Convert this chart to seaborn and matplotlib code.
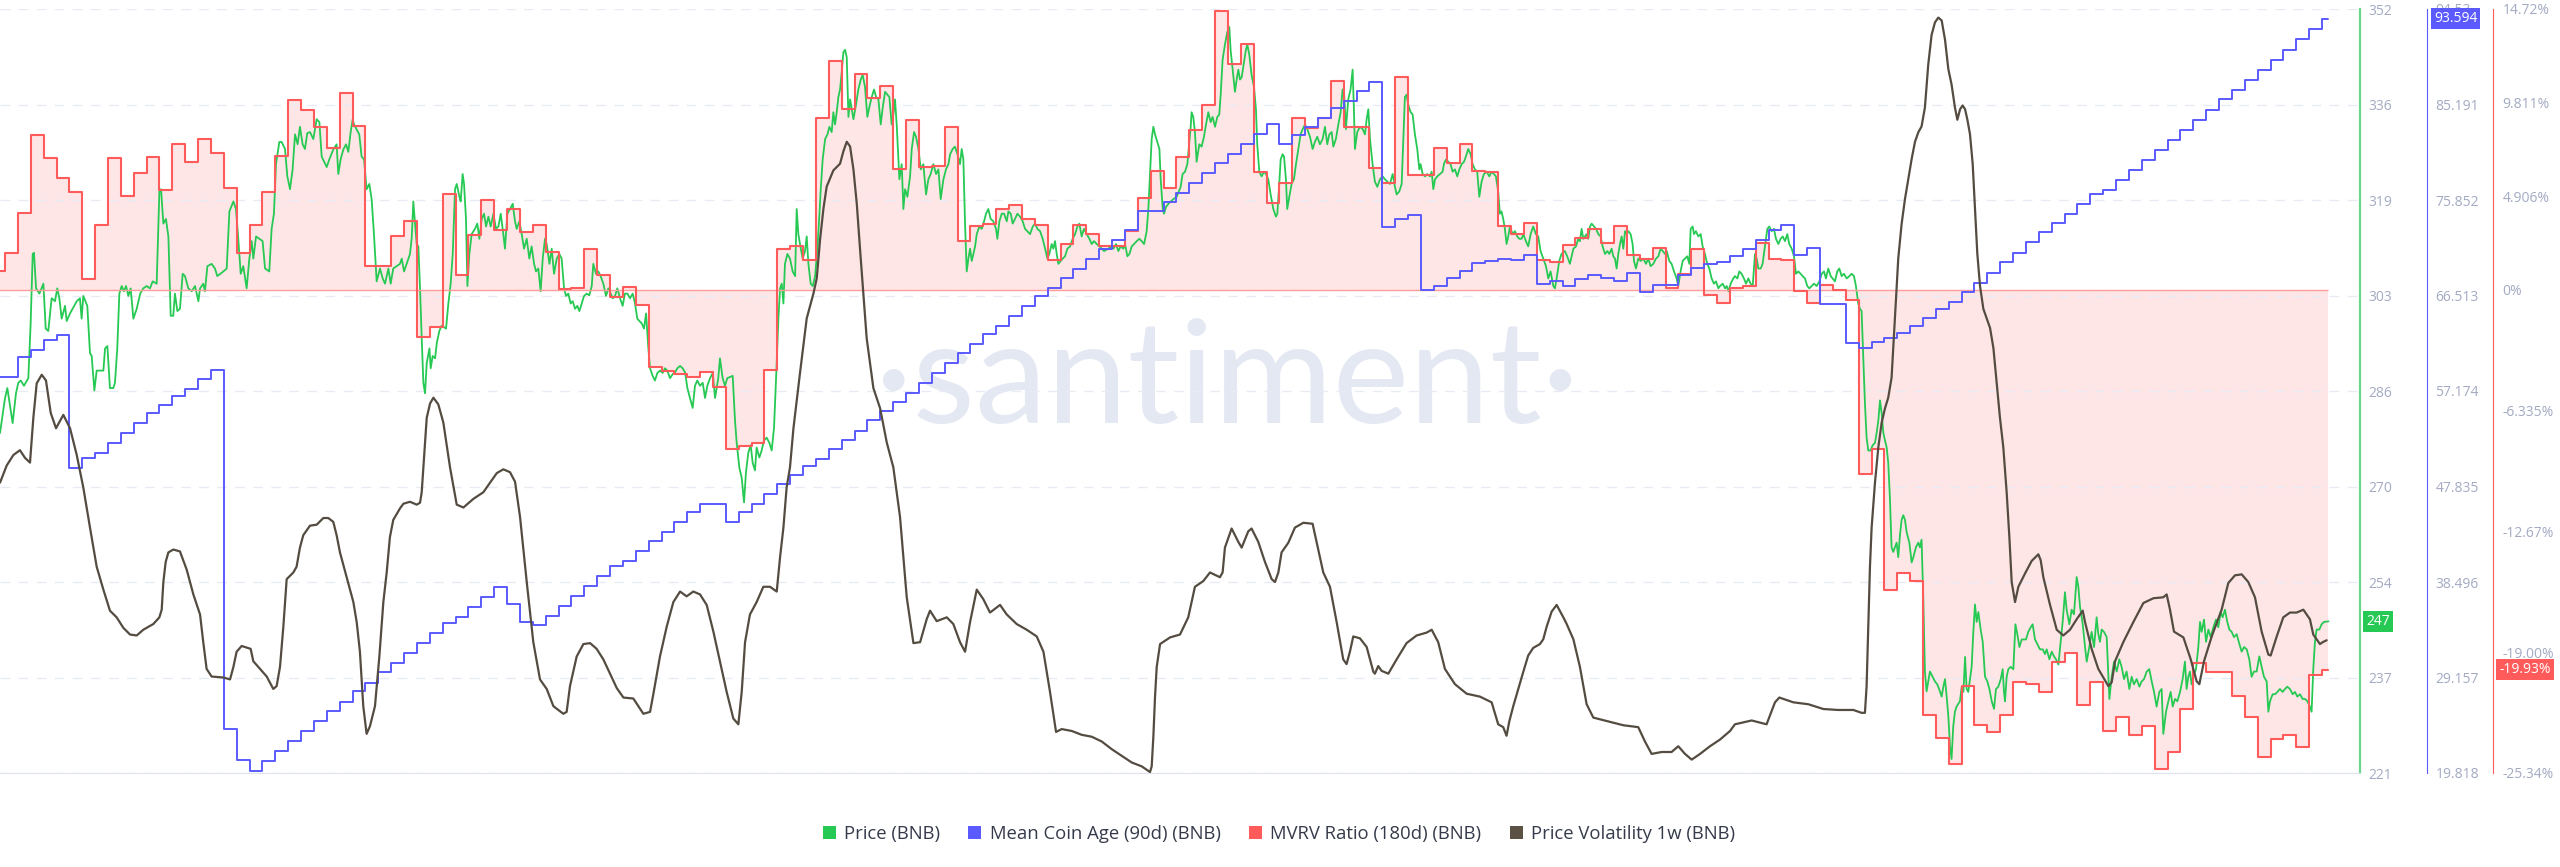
import numpy as np
import pandas as pd
import matplotlib
matplotlib.use("Agg")
import matplotlib.pyplot as plt
import matplotlib.transforms as mtransforms
from matplotlib.patches import Patch
import seaborn as sns

# ---- data -------------------------------------------------------------
start = pd.Timestamp("2023-01-11")

# daily MVRV ratio (180d), %  -- 11 Jan .. 11 Jul
mvrv = [0.98, 1.93, 4.02, 8.11, 6.91, 5.86, 5.15, 0.58, 3.39, 6.91,
        4.89, 6.14, 6.96, 5.23, 7.64, 6.71, 7.90, 7.17, 5.33, 1.93,
        3.39, 5.10, 7.03, 9.97, 9.45, 8.53, 7.43, 10.29, 8.59, 1.24,
        1.24, 2.82, 3.60, -2.48, -1.95, 5.02, 0.77, 2.87, 4.68, 3.13,
        4.23, 3.03, 3.39, 1.98, 0.05, 0.08, 2.14, 0.77, -0.38, 0.12,
        -0.80, -4.05, -4.26, -4.42, -4.58, -4.32, -5.10, -8.35, -8.20, -8.05,
        -4.21, 2.14, 2.29, 1.56, 9.00, 12.01, 9.50, 11.33, 10.03, 10.70,
        6.33, 8.90, 6.45, 6.49, 8.53, 2.55, 3.34, 3.45, 4.23, 4.42,
        3.71, 3.39, 1.56, 2.40, 3.39, 2.92, 2.29, 2.29, 3.08, 4.81,
        6.25, 5.33, 6.96, 8.38, 9.71, 14.62, 11.85, 12.90, 6.19, 4.57,
        5.60, 8.98, 8.50, 8.98, 10.94, 8.53, 8.53, 6.38, 5.62, 11.15,
        6.02, 6.02, 7.43, 6.66, 7.64, 6.25, 6.17, 3.34, 2.92, 3.50,
        1.56, 1.45, 2.35, 2.71, 3.18, 2.45, 3.34, 1.82, 1.61, 2.19,
        0.11, 0.85, 2.14, -0.28, -0.67, 0.11, 0.22, 2.45, 1.61, 1.56,
        -0.05, -0.67, 0.25, 0.01, -0.54, -9.66, -8.35, -15.72, -14.85, -15.27,
        -22.30, -23.51, -24.87, -20.76, -22.82, -23.19, -22.30, -20.55, -20.67, -21.07,
        -19.50, -19.03, -21.78, -20.55, -23.14, -22.40, -23.35, -22.87, -25.12, -24.24,
        -22.00, -19.57, -20.02, -20.02, -21.28, -22.40, -24.50, -23.55, -23.35, -23.98,
        -20.20, -19.93]

# daily mean coin age (90d), days
coin_age = [58.58, 58.58, 60.50, 61.18, 62.16, 62.65, 49.67, 50.65, 51.14, 52.11,
            53.09, 54.04, 55.02, 55.76, 56.64, 57.41, 58.35, 59.26, 24.08, 21.12,
            20.01, 20.99, 21.97, 22.95, 23.93, 24.91, 25.88, 26.81, 27.79, 28.66,
            29.73, 30.55, 31.58, 32.55, 33.53, 34.49, 35.08, 36.05, 37.03, 38.01,
            36.39, 34.58, 34.29, 35.17, 36.15, 37.13, 38.11, 39.09, 40.06, 40.58,
            41.53, 42.51, 43.39, 44.36, 45.34, 46.17, 46.17, 44.36, 45.34, 46.17,
            47.15, 48.12, 48.96, 49.84, 50.55, 51.50, 52.38, 53.26, 54.34, 55.22,
            56.10, 56.98, 57.96, 58.94, 59.91, 60.89, 61.77, 62.75, 63.53, 64.51,
            65.49, 66.42, 67.29, 68.26, 69.13, 70.11, 71.08, 71.96, 72.92, 74.74,
            74.74, 75.61, 76.54, 77.51, 78.49, 79.47, 80.35, 81.33, 82.31, 83.25,
            81.33, 82.21, 82.99, 83.83, 84.80, 85.53, 86.51, 87.39, 73.17, 73.99,
            74.38, 67.09, 67.44, 68.26, 68.91, 69.72, 69.89, 70.11, 70.03, 70.47,
            67.68, 67.93, 67.44, 68.17, 68.52, 68.26, 67.93, 68.75, 66.81, 67.58,
            67.58, 68.52, 69.23, 69.62, 69.79, 70.38, 71.08, 71.96, 72.92, 73.42,
            70.50, 71.18, 65.73, 65.73, 61.84, 61.35, 61.94, 62.33, 62.82, 63.54,
            64.27, 65.15, 65.85, 66.81, 67.77, 68.75, 69.79, 70.70, 71.72, 72.74,
            73.61, 74.48, 75.46, 76.44, 76.87, 77.85, 78.79, 79.74, 80.72, 81.69,
            82.67, 83.68, 84.70, 85.68, 86.65, 87.63, 88.59, 89.57, 90.54, 91.62,
            92.58, 93.594]

# intraday BNB price: (days since 11 Jan, USD)
price_pts = [
    (0.11, 279.3), (0.50, 285.3), (0.68, 287.0), (1.09, 281.0), (1.35, 286.1), (1.53, 287.9), (1.72, 288.3),
    (1.97, 287.4), (2.31, 288.7), (2.49, 298.1), (2.65, 310.0), (2.75, 310.2), (2.91, 304.1), (3.17, 303.2),
    (3.48, 304.9), (3.66, 297.2), (3.86, 296.8), (4.12, 302.4), (4.38, 301.9), (4.56, 304.1), (4.72, 302.4),
    (4.90, 298.9), (5.16, 301.1), (5.29, 298.5), (5.55, 299.8), (6.07, 301.9), (6.32, 302.4), (6.45, 298.9),
    (6.58, 302.8), (6.89, 301.1), (7.10, 293.0), (7.23, 292.5), (7.44, 286.6), (7.62, 290.0), (8.14, 290.0),
    (8.27, 293.8), (8.45, 294.2), (8.65, 287.0), (8.91, 287.0), (9.04, 287.9), (9.22, 293.8), (9.38, 303.2),
    (9.56, 304.5), (9.74, 303.6), (9.90, 304.5), (10.08, 302.8), (10.26, 304.1), (10.47, 298.9), (10.73, 300.6),
    (11.00, 303.2), (11.24, 304.1), (11.50, 304.5), (11.76, 304.1), (11.97, 305.3), (12.28, 304.9), (12.49, 320.7),
    (12.62, 321.1), (12.80, 315.2), (13.00, 316.0), (13.19, 313.0), (13.37, 299.4), (13.57, 299.4), (13.70, 303.2),
    (13.89, 300.2), (14.09, 300.6), (14.30, 306.6), (14.48, 306.2), (14.74, 304.1), (15.00, 303.6), (15.26, 304.5),
    (15.52, 301.9), (15.65, 304.1), (15.90, 304.9), (16.03, 303.6), (16.22, 307.9), (16.55, 308.3), (16.81, 307.5),
    (16.99, 306.2), (17.46, 307.0), (17.72, 307.5), (17.93, 317.3), (18.24, 319.0), (18.44, 317.7), (18.62, 312.6),
    (18.81, 306.6), (19.01, 307.9), (19.27, 304.1), (19.48, 309.2), (19.66, 312.2), (19.79, 309.2), (20.00, 313.0),
    (20.51, 312.2), (20.70, 307.5), (21.03, 307.0), (21.21, 314.3), (21.39, 316.9), (21.55, 325.4), (21.81, 329.2),
    (21.99, 329.2), (22.25, 328.0), (22.43, 323.3), (22.64, 321.1), (22.84, 324.5), (23.03, 330.5), (23.23, 328.8),
    (23.41, 331.8), (23.62, 328.8), (23.80, 328.0), (23.98, 330.7), (24.19, 330.9), (24.45, 329.7), (24.71, 333.1),
    (24.92, 332.6), (25.10, 326.7), (25.49, 324.9), (25.69, 326.2), (26.00, 327.9), (26.26, 328.8), (26.39, 323.7),
    (26.57, 326.2), (26.78, 327.9), (26.99, 328.8), (27.17, 327.5), (27.35, 330.9), (27.51, 333.1), (27.61, 332.2),
    (28.02, 330.5), (28.20, 326.7), (28.39, 326.2), (28.59, 321.1), (28.80, 322.0), (28.98, 319.4), (29.16, 313.4),
    (29.37, 305.3), (29.63, 307.5), (29.84, 305.8), (30.02, 304.9), (30.28, 307.5), (30.46, 304.9), (30.66, 307.5),
    (31.18, 308.3), (31.32, 309.2), (31.50, 307.0), (31.70, 308.3), (31.96, 310.0), (32.09, 312.6), (32.22, 319.0),
    (32.35, 315.2), (32.48, 311.7), (32.61, 311.3), (32.74, 304.1), (32.87, 295.5), (33.00, 287.9), (33.13, 286.1),
    (33.26, 291.3), (33.47, 293.8), (33.57, 290.4), (33.72, 292.5), (33.91, 292.1), (34.04, 294.7), (34.24, 296.8),
    (34.42, 297.7), (34.76, 297.2), (34.94, 301.5), (35.12, 304.9), (35.28, 310.0), (35.46, 321.1), (35.59, 322.0),
    (35.80, 319.8), (35.90, 319.0), (36.05, 323.7), (36.16, 322.0), (36.31, 316.0), (36.42, 304.5), (36.57, 310.0),
    (36.75, 313.4), (37.01, 314.3), (37.19, 315.2), (37.35, 312.6), (37.53, 316.0), (37.71, 316.9), (37.87, 314.7),
    (38.05, 316.4), (38.23, 314.7), (38.44, 316.9), (38.64, 314.3), (38.83, 314.7), (39.01, 316.9), (39.21, 313.4),
    (39.34, 310.9), (39.52, 316.9), (39.73, 317.7), (39.94, 318.6), (40.12, 315.6), (40.25, 314.3), (40.46, 315.6),
    (40.64, 313.4), (40.82, 310.9), (41.03, 312.6), (41.23, 309.2), (41.41, 311.3), (41.60, 308.3), (41.75, 307.0),
    (41.93, 307.5), (42.11, 303.6), (42.27, 309.2), (42.45, 312.6), (42.58, 311.7), (42.79, 308.3), (42.97, 310.9),
    (43.15, 306.6), (43.36, 309.2), (43.56, 310.0), (43.74, 309.2), (43.93, 304.1), (44.08, 302.8), (44.26, 303.2),
    (44.44, 301.5), (44.60, 301.9), (44.78, 300.6), (44.96, 301.1), (45.12, 300.2), (45.30, 301.5), (45.48, 302.8),
    (45.69, 303.2), (45.89, 302.9), (46.08, 304.5), (46.20, 308.3), (46.41, 306.6), (46.59, 307.0), (46.77, 306.2),
    (46.98, 304.9), (47.19, 302.8), (47.37, 304.1), (47.55, 303.2), (47.71, 302.4), (47.89, 302.8), (48.07, 304.1),
    (48.28, 302.4), (48.48, 301.1), (48.66, 303.2), (48.85, 303.2), (49.05, 302.4), (49.26, 303.2), (49.44, 301.5),
    (49.62, 298.9), (49.78, 298.5), (49.96, 298.1), (50.14, 297.2), (50.30, 299.8), (50.48, 293.8), (50.61, 290.4),
    (50.81, 289.1), (50.99, 288.3), (51.18, 289.6), (51.38, 290.0), (51.59, 289.6), (51.77, 290.4), (51.95, 290.0),
    (52.16, 288.7), (52.37, 289.4), (52.55, 289.7), (52.73, 290.4), (52.94, 290.8), (53.14, 290.4), (53.33, 289.7),
    (53.51, 287.0), (53.71, 285.3), (53.92, 283.6), (54.10, 287.4), (54.28, 288.3), (54.49, 287.4), (54.70, 287.9),
    (54.88, 285.3), (55.06, 287.4), (55.27, 288.7), (55.48, 289.6), (55.66, 285.3), (55.91, 288.7), (56.04, 292.1),
    (56.25, 288.7), (56.43, 287.4), (56.61, 288.7), (56.82, 288.9), (57.03, 289.1), (57.21, 281.4), (57.34, 277.6),
    (57.55, 273.3), (57.73, 271.6), (57.91, 267.4), (58.06, 272.5), (58.24, 275.9), (58.43, 277.2), (58.58, 274.2),
    (58.76, 272.9), (58.89, 276.8), (59.10, 275.1), (59.28, 276.3), (59.46, 278.0), (59.67, 278.5), (59.88, 277.6),
    (60.06, 276.3), (60.24, 280.2), (60.40, 288.7), (60.58, 298.9), (60.71, 304.1), (60.84, 304.9), (60.97, 301.5),
    (61.09, 308.3), (61.28, 310.0), (61.48, 309.2), (61.69, 307.0), (61.88, 306.2), (62.00, 317.7), (62.13, 313.4),
    (62.32, 310.9), (62.47, 309.2), (62.65, 310.5), (62.78, 313.0), (62.91, 308.3), (63.09, 304.9), (63.25, 304.5),
    (63.43, 306.2), (63.61, 310.9), (63.77, 316.9), (63.87, 321.1), (64.02, 326.2), (64.21, 329.7), (64.39, 330.5),
    (64.54, 331.8), (64.72, 330.9), (64.85, 334.3), (64.98, 332.2), (65.11, 334.3), (65.24, 336.9), (65.37, 338.2),
    (65.50, 341.2), (65.63, 344.6), (65.76, 345.0), (65.89, 343.7), (66.02, 333.5), (66.15, 336.5), (66.28, 334.8),
    (66.41, 333.1), (66.61, 335.6), (66.79, 338.2), (66.98, 339.9), (67.13, 340.7), (67.31, 338.6), (67.49, 333.5),
    (67.65, 335.2), (67.83, 336.9), (68.01, 338.2), (68.17, 336.9), (68.35, 336.5), (68.53, 332.2), (68.69, 335.2),
    (68.87, 337.8), (69.05, 337.3), (69.20, 336.9), (69.38, 332.2), (69.51, 333.9), (69.64, 336.5), (69.77, 332.2),
    (69.98, 322.8), (70.16, 325.4), (70.29, 317.7), (70.42, 321.1), (70.60, 319.8), (70.81, 323.3), (70.94, 328.0),
    (71.12, 330.9), (71.27, 330.1), (71.46, 328.0), (71.64, 324.5), (71.84, 325.4), (72.05, 320.2), (72.23, 322.8),
    (72.41, 323.7), (72.62, 325.4), (72.83, 323.7), (73.01, 324.5), (73.19, 319.4), (73.40, 322.8), (73.60, 324.5),
    (73.79, 325.4), (73.92, 327.1), (74.12, 328.0), (74.30, 328.4), (74.49, 327.1), (74.69, 325.4), (74.82, 328.0),
    (74.95, 326.2), (75.08, 315.2), (75.21, 307.0), (75.34, 309.2), (75.47, 310.9), (75.60, 308.8), (75.73, 310.0),
    (75.86, 311.3), (75.99, 313.4), (76.19, 314.7), (76.38, 314.3), (76.56, 315.6), (76.71, 316.9), (76.89, 317.7),
    (77.07, 316.0), (77.28, 315.6), (77.49, 314.3), (77.59, 312.6), (77.75, 315.6), (77.93, 316.9), (78.11, 316.9),
    (78.32, 315.6), (78.45, 317.3), (78.63, 316.9), (78.78, 315.2), (78.96, 316.0), (79.15, 316.9), (79.35, 316.4),
    (79.56, 315.6), (79.74, 314.3), (79.92, 313.9), (80.13, 313.4), (80.34, 314.7), (80.52, 315.2), (80.70, 314.3),
    (80.91, 313.9), (81.11, 312.6), (81.30, 310.9), (81.48, 309.2), (81.63, 310.0), (81.81, 311.7), (81.94, 310.9),
    (82.07, 312.2), (82.20, 310.0), (82.33, 308.3), (82.51, 308.8), (82.67, 309.2), (82.85, 309.6), (83.03, 310.9),
    (83.24, 311.3), (83.44, 312.6), (83.63, 313.4), (83.81, 314.7), (83.96, 315.2), (84.14, 313.0), (84.32, 314.3),
    (84.53, 313.4), (84.74, 312.6), (84.92, 311.7), (85.10, 312.2), (85.31, 311.7), (85.52, 311.3), (85.70, 310.9),
    (85.88, 310.5), (86.22, 310.9), (86.40, 311.3), (86.60, 310.9), (86.81, 311.7), (86.99, 310.5), (87.17, 311.3),
    (87.38, 310.9), (87.51, 311.7), (87.69, 309.6), (87.85, 310.0), (88.03, 311.3), (88.21, 311.7), (88.42, 312.2),
    (88.62, 312.6), (88.80, 312.2), (88.99, 311.7), (89.19, 313.9), (89.32, 317.7), (89.45, 323.7), (89.58, 329.7),
    (89.71, 331.8), (89.84, 330.5), (90.02, 329.2), (90.18, 328.0), (90.28, 322.8), (90.44, 317.7), (90.54, 316.9),
    (90.70, 318.1), (90.88, 318.6), (91.06, 319.0), (91.27, 319.4), (91.52, 319.8), (91.83, 321.5), (91.98, 323.7),
    (92.17, 324.1), (92.35, 325.4), (92.50, 329.2), (92.61, 331.8), (92.68, 334.3), (92.81, 333.5), (92.94, 330.9),
    (93.07, 325.8), (93.28, 328.8), (93.46, 328.4), (93.64, 330.1), (93.80, 332.2), (93.98, 334.3), (94.16, 332.6),
    (94.31, 333.5), (94.50, 331.8), (94.68, 333.5), (94.83, 333.9), (94.94, 337.3), (95.09, 343.3), (95.27, 345.9),
    (95.45, 348.0), (95.61, 348.9), (95.71, 345.0), (95.87, 341.6), (96.05, 337.8), (96.18, 339.9), (96.31, 341.6),
    (96.44, 339.9), (96.57, 340.3), (96.75, 342.9), (96.90, 345.0), (97.01, 345.9), (97.16, 344.2), (97.34, 340.7),
    (97.53, 338.6), (97.68, 334.8), (97.78, 328.8), (97.94, 324.1), (98.12, 323.3), (98.30, 324.1), (98.46, 323.7),
    (98.64, 322.8), (98.82, 320.2), (99.03, 317.7), (99.23, 316.4), (99.34, 316.9), (99.49, 322.0), (99.60, 326.2),
    (99.75, 327.1), (99.86, 326.7), (100.01, 322.8), (100.11, 317.7), (100.27, 319.8), (100.45, 322.0), (100.63, 322.8),
    (100.79, 325.4), (100.97, 328.0), (101.15, 330.5), (101.31, 331.4), (101.49, 332.2), (101.67, 331.4), (101.88, 330.1),
    (102.08, 328.0), (102.26, 329.2), (102.44, 330.1), (102.65, 328.8), (102.86, 329.7), (103.04, 331.8), (103.22, 328.8),
    (103.38, 330.5), (103.56, 330.9), (103.69, 328.4), (103.89, 329.7), (104.08, 332.2), (104.26, 334.3), (104.41, 338.2),
    (104.52, 337.8), (104.67, 331.4), (104.85, 336.5), (105.03, 338.2), (105.19, 341.6), (105.29, 334.8), (105.37, 328.0),
    (105.55, 330.9), (105.76, 331.8), (105.97, 331.4), (106.15, 330.5), (106.28, 333.1), (106.41, 334.8), (106.54, 329.7),
    (106.74, 325.4), (106.92, 322.4), (107.11, 321.5), (107.31, 322.8), (107.52, 323.3), (107.70, 322.8), (107.88, 322.4),
    (108.09, 322.0), (108.30, 323.7), (108.48, 321.5), (108.61, 320.2), (108.81, 320.7), (109.00, 322.0), (109.13, 329.7),
    (109.25, 336.9), (109.38, 337.3), (109.51, 335.6), (109.70, 334.3), (109.85, 333.9), (110.03, 330.5), (110.21, 328.0),
    (110.37, 324.5), (110.47, 325.4), (110.63, 323.7), (110.81, 323.3), (110.99, 323.7), (111.20, 323.3), (111.33, 324.1),
    (111.46, 321.1), (111.59, 322.8), (111.77, 323.3), (111.97, 323.7), (112.18, 324.1), (112.28, 325.4), (112.44, 326.2),
    (112.62, 325.8), (112.80, 325.4), (112.96, 324.1), (113.14, 324.5), (113.32, 323.3), (113.48, 324.5), (113.66, 325.4),
    (113.84, 325.8), (113.99, 326.7), (114.17, 328.0), (114.36, 327.1), (114.51, 325.4), (114.69, 324.5), (114.87, 324.1),
    (115.03, 319.8), (115.21, 322.4), (115.39, 323.7), (115.60, 324.1), (115.81, 323.3), (115.99, 324.1), (116.17, 323.7),
    (116.32, 323.3), (116.50, 320.7), (116.63, 316.9), (116.76, 317.3), (116.89, 316.0), (117.02, 314.3), (117.15, 311.7),
    (117.28, 313.0), (117.41, 314.7), (117.62, 313.4), (117.80, 313.9), (117.98, 313.0), (118.14, 312.6), (118.32, 312.6),
    (118.45, 313.4), (118.65, 312.2), (118.83, 311.3), (119.02, 313.4), (119.22, 314.7), (119.43, 313.4), (119.61, 313.0),
    (119.79, 310.5), (120.00, 309.2), (120.21, 307.9), (120.39, 305.8), (120.57, 307.0), (120.78, 304.5), (120.91, 304.1),
    (121.04, 305.8), (121.24, 308.8), (121.42, 310.0), (121.68, 310.5), (121.86, 309.6), (122.07, 308.3), (122.34, 310.9),
    (122.54, 311.3), (122.72, 312.6), (122.85, 312.2), (122.98, 314.3), (123.11, 312.6), (123.37, 313.4), (123.50, 312.6),
    (123.63, 314.7), (123.76, 315.2), (124.10, 314.3), (124.28, 313.4), (124.46, 313.0), (124.61, 311.3), (124.80, 310.0),
    (124.98, 310.5), (125.13, 310.0), (125.31, 310.9), (125.44, 309.6), (125.57, 309.2), (125.70, 307.5), (125.83, 310.0),
    (125.96, 311.7), (126.09, 313.0), (126.22, 310.9), (126.35, 313.9), (126.48, 313.4), (126.61, 313.9), (126.79, 313.4),
    (126.94, 311.7), (127.05, 308.8), (127.20, 307.5), (127.38, 309.2), (127.57, 308.8), (127.77, 309.2), (127.98, 308.3),
    (128.16, 309.2), (128.34, 307.9), (128.55, 308.3), (128.76, 309.2), (128.94, 309.6), (129.12, 310.9), (129.28, 310.5),
    (129.46, 310.0), (129.59, 310.5), (129.79, 308.8), (129.97, 308.3), (130.16, 307.0), (130.36, 305.8), (130.49, 304.5),
    (130.67, 307.0), (130.83, 308.8), (131.01, 309.2), (131.19, 309.6), (131.35, 308.3), (131.45, 314.3), (131.61, 314.7),
    (131.71, 313.4), (131.86, 313.9), (132.05, 313.0), (132.23, 313.4), (132.38, 311.3), (132.56, 310.0), (132.74, 308.3),
    (132.90, 307.5), (133.08, 305.8), (133.26, 304.9), (133.42, 305.3), (133.60, 304.1), (133.73, 304.5), (133.94, 304.9),
    (134.12, 304.1), (134.25, 304.5), (134.38, 303.6), (134.56, 304.9), (134.76, 305.8), (134.89, 306.2), (135.08, 305.8),
    (135.23, 307.0), (135.41, 306.6), (135.59, 305.8), (135.75, 304.9), (135.93, 305.8), (136.11, 304.9), (136.27, 304.5),
    (136.45, 310.0), (136.58, 309.2), (136.71, 307.5), (136.89, 307.5), (137.04, 308.3), (137.22, 311.3), (137.41, 314.3),
    (137.56, 314.7), (137.74, 313.9), (137.92, 314.3), (138.08, 312.6), (138.26, 311.7), (138.44, 312.6), (138.60, 313.0),
    (138.78, 312.2), (138.96, 313.4), (139.11, 311.7), (139.30, 310.9), (139.48, 309.6), (139.63, 306.6), (139.81, 307.0),
    (139.99, 306.6), (140.15, 306.2), (140.33, 305.8), (140.51, 304.5), (140.67, 304.1), (140.85, 304.5), (141.03, 304.9),
    (141.24, 304.5), (141.45, 305.3), (141.63, 306.6), (141.81, 307.0), (141.96, 305.8), (142.14, 307.5), (142.33, 306.2),
    (142.48, 305.8), (142.66, 305.3), (142.84, 307.0), (143.00, 307.5), (143.18, 306.2), (143.36, 306.6), (143.57, 305.8),
    (143.78, 306.2), (143.96, 306.6), (144.14, 306.2), (144.29, 304.5), (144.47, 301.5), (144.60, 300.6), (144.73, 300.2),
    (144.86, 292.1), (144.99, 284.4), (145.12, 278.5), (145.25, 276.3), (145.43, 276.3), (145.59, 277.2), (145.77, 277.6),
    (145.90, 279.3), (146.03, 281.4), (146.16, 284.9), (146.29, 282.7), (146.42, 279.3), (146.55, 278.0), (146.68, 276.8),
    (146.80, 274.2), (146.93, 268.2), (147.06, 259.7), (147.19, 258.9), (147.32, 259.7), (147.45, 260.5), (147.58, 258.0),
    (147.71, 261.8), (147.84, 264.4), (147.97, 265.2), (148.10, 264.4), (148.23, 262.3), (148.44, 260.5), (148.62, 257.1),
    (148.75, 258.0), (148.95, 259.7), (149.14, 260.5), (149.26, 259.7), (149.39, 261.0), (149.52, 251.2), (149.65, 238.4),
    (149.78, 235.0), (149.91, 236.7), (150.04, 238.4), (150.25, 237.5), (150.43, 236.7), (150.61, 236.2), (150.82, 235.0),
    (150.95, 234.1), (151.08, 235.8), (151.21, 237.1), (151.34, 234.1), (151.47, 230.7), (151.60, 225.6), (151.72, 223.4),
    (151.85, 229.0), (151.98, 231.5), (152.11, 232.4), (152.37, 233.3), (152.51, 235.8), (152.64, 234.9), (152.77, 240.9),
    (152.89, 235.4), (153.02, 234.9), (153.15, 237.1), (153.28, 239.2), (153.41, 245.2), (153.54, 249.9), (153.67, 246.9),
    (153.80, 248.6), (153.98, 245.6), (154.14, 243.5), (154.32, 237.5), (154.50, 236.7), (154.66, 235.4), (154.84, 233.3),
    (155.02, 232.0), (155.17, 235.4), (155.35, 235.8), (155.54, 237.1), (155.69, 238.8), (155.79, 235.0), (155.87, 233.3),
    (156.00, 237.5), (156.13, 238.8), (156.31, 239.2), (156.52, 238.8), (156.68, 246.5), (156.83, 244.8), (156.99, 242.6),
    (157.17, 243.9), (157.50, 243.9), (157.68, 245.2), (157.87, 246.0), (158.02, 246.5), (158.20, 243.9), (158.38, 243.1),
    (158.59, 242.2), (158.80, 242.2), (158.98, 241.4), (159.11, 242.2), (159.32, 240.5), (159.50, 241.8), (159.68, 241.0),
    (159.83, 240.5), (160.02, 239.6), (160.20, 243.5), (160.35, 246.9), (160.53, 252.0), (160.66, 249.0), (160.87, 246.5),
    (161.05, 249.0), (161.23, 248.2), (161.44, 254.6), (161.57, 252.9), (161.70, 249.5), (161.91, 246.5), (162.09, 242.6),
    (162.22, 240.1), (162.42, 242.6), (162.60, 245.2), (162.79, 242.6), (162.99, 247.7), (163.12, 244.8), (163.25, 243.5),
    (163.38, 245.6), (163.56, 245.2), (163.77, 244.3), (163.98, 233.7), (164.16, 237.5), (164.34, 240.1), (164.55, 238.4),
    (164.75, 240.5), (164.93, 239.2), (165.12, 237.1), (165.32, 238.4), (165.53, 235.4), (165.71, 237.5), (165.89, 236.2),
    (166.10, 237.1), (166.31, 235.8), (166.49, 236.7), (166.67, 237.1), (166.88, 238.4), (167.08, 238.8), (167.27, 236.7),
    (167.45, 234.9), (167.65, 232.4), (167.86, 234.9), (168.04, 235.4), (168.17, 227.7), (168.38, 231.5), (168.56, 233.3),
    (168.74, 234.9), (168.90, 232.4), (169.08, 233.7), (169.26, 233.3), (169.47, 234.9), (169.67, 237.1), (169.85, 240.1),
    (169.98, 235.4), (170.11, 237.5), (170.24, 238.4), (170.37, 236.2), (170.50, 237.5), (170.71, 238.8), (170.89, 242.6),
    (171.02, 246.9), (171.15, 245.2), (171.33, 247.3), (171.49, 243.5), (171.67, 245.6), (171.85, 244.3), (172.06, 246.0),
    (172.26, 247.3), (172.44, 246.0), (172.63, 248.6), (172.78, 247.7), (172.96, 249.0), (173.14, 246.9), (173.30, 245.6),
    (173.48, 245.2), (173.66, 244.3), (173.87, 244.8), (174.08, 243.1), (174.26, 241.8), (174.44, 242.6), (174.65, 242.2),
    (174.85, 240.5), (175.03, 237.5), (175.21, 238.4), (175.42, 238.4), (175.63, 241.0), (175.81, 239.2), (175.99, 237.5),
    (176.20, 236.7), (176.33, 231.5), (176.46, 233.3), (176.66, 234.5), (176.85, 234.5), (177.03, 234.9), (177.23, 235.4),
    (177.44, 234.9), (177.62, 235.4), (177.80, 235.8), (178.01, 235.4), (178.22, 234.5), (178.40, 234.9), (178.58, 234.1),
    (178.79, 234.5), (178.99, 233.7), (179.18, 233.7), (179.36, 233.3), (179.56, 232.4), (179.69, 231.5), (179.82, 238.8),
    (179.95, 243.5), (180.08, 245.6), (180.29, 245.6), (180.47, 246.5), (180.65, 246.9), (181.00, 247.0),
]

# price volatility 1w (no axis shown): (days since 11 Jan, value)
vol_pts = [
    (0.11, 3.04), (0.63, 3.22), (1.15, 3.33), (1.66, 3.38), (2.05, 3.30), (2.44, 3.25), (2.70, 3.72), (2.96, 4.08),
    (3.35, 4.17), (3.68, 4.11), (4.05, 3.77), (4.46, 3.61), (5.03, 3.75), (5.55, 3.61), (6.07, 3.33), (6.58, 2.99),
    (7.10, 2.57), (7.62, 2.16), (8.14, 1.92), (8.65, 1.70), (9.17, 1.63), (9.69, 1.52), (10.21, 1.45), (10.73, 1.44),
    (11.24, 1.50), (12.02, 1.56), (12.49, 1.63), (12.67, 1.71), (12.80, 2.00), (12.98, 2.21), (13.19, 2.31),
    (13.57, 2.34), (14.09, 2.32), (14.61, 2.13), (15.13, 1.87), (15.65, 1.66), (15.90, 1.37), (16.16, 1.09),
    (16.55, 1.01), (17.46, 1.00), (17.98, 0.98), (18.24, 1.11), (18.49, 1.27), (18.88, 1.33), (19.58, 1.30),
    (19.79, 1.17), (20.31, 1.09), (20.83, 1.01), (21.34, 0.88), (21.60, 0.91), (21.86, 1.11), (22.12, 1.53),
    (22.38, 2.03), (22.90, 2.10), (23.15, 2.16), (23.41, 2.36), (23.67, 2.49), (24.19, 2.59), (24.71, 2.60),
    (25.23, 2.67), (25.61, 2.67), (26.00, 2.63), (26.26, 2.49), (26.52, 2.31), (27.04, 2.05), (27.56, 1.79),
    (27.82, 1.58), (28.07, 1.27), (28.33, 0.70), (28.59, 0.41), (28.85, 0.49), (29.24, 0.70), (29.58, 1.22),
    (29.89, 1.79), (30.15, 2.10), (30.40, 2.47), (30.66, 2.65), (31.18, 2.77), (31.45, 2.82), (31.96, 2.84),
    (32.48, 2.81), (32.74, 2.83), (32.87, 2.94), (33.00, 3.20), (33.26, 3.72), (33.52, 3.87), (33.78, 3.93),
    (34.16, 3.86), (34.55, 3.67), (35.07, 3.20), (35.59, 2.81), (36.11, 2.78), (36.88, 2.87), (37.66, 2.94),
    (38.18, 3.04), (38.70, 3.14), (39.21, 3.18), (39.73, 3.15), (40.12, 3.05), (40.51, 2.68), (41.03, 2.00),
    (41.54, 1.37), (42.06, 0.98), (42.58, 0.88), (43.10, 0.70), (43.87, 0.62), (44.13, 0.64), (44.39, 0.91),
    (44.91, 1.22), (45.43, 1.35), (45.95, 1.36), (46.46, 1.30), (46.98, 1.19), (47.50, 1.04), (48.02, 0.89),
    (48.54, 0.79), (49.31, 0.78), (49.70, 0.70), (50.09, 0.62), (50.61, 0.64), (50.87, 0.83), (51.38, 1.22),
    (51.90, 1.53), (52.42, 1.79), (52.94, 1.90), (53.45, 1.85), (53.97, 1.90), (54.49, 1.87), (55.01, 1.76),
    (55.53, 1.48), (56.04, 1.17), (56.56, 0.85), (57.08, 0.57), (57.47, 0.51), (57.73, 0.85), (57.99, 1.37),
    (58.37, 1.66), (58.89, 1.79), (59.41, 1.95), (59.93, 1.95), (60.45, 1.90), (60.71, 2.26), (60.97, 2.57),
    (61.22, 2.99), (61.48, 3.20), (61.75, 3.61), (62.26, 4.19), (62.78, 4.76), (63.30, 5.02), (63.56, 5.18),
    (63.82, 5.59), (64.08, 5.91), (64.33, 6.14), (64.85, 6.31), (65.37, 6.38), (65.63, 6.51), (65.89, 6.61),
    (66.15, 6.56), (66.41, 6.32), (66.67, 5.96), (66.92, 5.49), (67.44, 4.55), (67.96, 4.03), (68.48, 3.82),
    (69.00, 3.46), (69.51, 3.20), (70.03, 2.68), (70.55, 1.84), (71.07, 1.36), (71.59, 1.37), (72.10, 1.61),
    (72.36, 1.70), (72.88, 1.59), (73.66, 1.63), (74.17, 1.56), (74.69, 1.37), (75.08, 1.27), (75.47, 1.58),
    (75.99, 1.92), (76.50, 1.82), (77.02, 1.68), (77.80, 1.76), (78.32, 1.66), (79.09, 1.56), (79.87, 1.50),
    (80.65, 1.43), (81.17, 1.27), (81.68, 0.85), (82.15, 0.43), (82.59, 0.46), (83.37, 0.44), (84.14, 0.40),
    (84.92, 0.38), (85.70, 0.33), (86.47, 0.25), (87.25, 0.18), (88.03, 0.11), (88.80, 0.07), (89.45, 0.01),
    (89.58, 0.07), (89.71, 0.38), (89.84, 0.80), (89.97, 1.11), (90.23, 1.35), (91.01, 1.42), (91.78, 1.45),
    (92.42, 1.63), (92.94, 1.95), (93.59, 2.01), (94.11, 2.10), (94.88, 2.05), (95.09, 2.10), (95.27, 2.36),
    (95.79, 2.56), (96.31, 2.42), (96.57, 2.36), (97.08, 2.53), (97.34, 2.56), (97.86, 2.42), (98.38, 2.21),
    (98.90, 2.03), (99.16, 2.00), (99.42, 2.10), (99.67, 2.31), (100.19, 2.41), (100.71, 2.57), (101.36, 2.62),
    (102.08, 2.61), (102.39, 2.42), (102.91, 2.10), (103.43, 1.95), (103.95, 1.58), (104.46, 1.19), (104.72, 1.14),
    (104.98, 1.27), (105.24, 1.43), (105.76, 1.41), (106.28, 1.32), (106.80, 1.06), (106.92, 1.04), (107.18, 1.12),
    (107.44, 1.07), (107.96, 1.04), (108.61, 1.19), (109.38, 1.36), (110.16, 1.44), (110.94, 1.47), (111.33, 1.50),
    (111.84, 1.37), (112.36, 1.09), (113.14, 0.93), (114.05, 0.83), (115.08, 0.80), (115.99, 0.74), (116.50, 0.51),
    (116.89, 0.48), (117.15, 0.39), (117.36, 0.54), (117.67, 0.70), (118.06, 0.88), (118.45, 1.06), (118.83, 1.23),
    (119.22, 1.31), (119.74, 1.35), (120.00, 1.40), (120.26, 1.53), (120.65, 1.69), (121.04, 1.76), (121.56, 1.63),
    (121.82, 1.56), (122.34, 1.40), (122.85, 1.11), (123.37, 0.72), (123.89, 0.58), (125.05, 0.54), (126.22, 0.50),
    (127.38, 0.48), (127.90, 0.33), (128.42, 0.20), (129.20, 0.22), (129.97, 0.22), (130.49, 0.28), (131.01, 0.20),
    (131.53, 0.14), (132.18, 0.20), (132.95, 0.28), (133.73, 0.35), (134.51, 0.44), (134.89, 0.51), (136.19, 0.55),
    (137.35, 0.51), (138.00, 0.74), (138.34, 0.79), (139.43, 0.74), (140.59, 0.72), (141.76, 0.67), (142.92, 0.66),
    (144.09, 0.66), (144.73, 0.63), (144.99, 0.63), (145.12, 0.91), (145.25, 1.53), (145.38, 2.16), (145.51, 2.57),
    (145.77, 3.04), (146.03, 3.41), (146.29, 3.67), (146.55, 3.82), (146.80, 3.93), (147.06, 4.14), (147.32, 4.76),
    (147.58, 5.39), (147.84, 5.75), (148.10, 6.01), (148.36, 6.22), (148.62, 6.43), (148.88, 6.61), (149.14, 6.71),
    (149.39, 6.77), (149.65, 6.97), (149.91, 7.42), (150.17, 7.73), (150.43, 7.86), (150.69, 7.91), (150.95, 7.88),
    (151.21, 7.68), (151.47, 7.37), (151.72, 7.21), (151.98, 6.97), (152.17, 6.84), (152.38, 6.95), (152.58, 6.99),
    (152.77, 6.95), (152.95, 6.84), (153.15, 6.69), (153.36, 6.38), (153.54, 5.91), (153.72, 5.44), (153.93, 5.10),
    (154.19, 4.86), (154.45, 4.76), (154.71, 4.66), (154.97, 4.45), (155.23, 4.08), (155.48, 3.72), (155.74, 3.41),
    (156.00, 2.94), (156.21, 2.47), (156.39, 2.00), (156.65, 1.79), (156.91, 1.95), (157.43, 2.09), (157.94, 2.22),
    (158.46, 2.29), (158.64, 2.23), (158.85, 2.05), (159.37, 1.76), (159.89, 1.50), (160.40, 1.44), (160.92, 1.50),
    (161.44, 1.61), (161.91, 1.70), (162.09, 1.58), (162.60, 1.30), (163.12, 1.09), (163.64, 0.97), (163.90, 0.91),
    (164.16, 0.95), (164.42, 1.17), (165.06, 1.37), (165.84, 1.58), (166.62, 1.78), (167.40, 1.83), (168.17, 1.84),
    (168.43, 1.87), (168.69, 1.71), (169.00, 1.48), (169.73, 1.42), (170.30, 1.19), (170.76, 0.96), (170.97, 0.93),
    (171.33, 1.17), (171.93, 1.43), (172.70, 1.71), (173.22, 1.99), (173.74, 2.07), (174.26, 2.08), (174.77, 2.00),
    (175.29, 1.84), (175.81, 1.48), (176.33, 1.24), (176.51, 1.23), (176.98, 1.43), (177.49, 1.63), (178.01, 1.68),
    (178.53, 1.68), (179.05, 1.71), (179.56, 1.61), (179.82, 1.45), (180.08, 1.40), (180.34, 1.35), (180.55, 1.37),
    (180.86, 1.39),
]

tick_labels = ["11 Jan 23", "26 Jan 23", "11 Feb 23", "26 Feb 23", "13 Mar 23", "28 Mar 23", "12 Apr 23",
               "27 Apr 23", "13 May 23", "28 May 23", "12 Jun 23", "27 Jun 23", "11 Jul 23"]
price_tick_labels = ["221", "237", "254", "270", "286", "303", "319", "336", "352"]
age_tick_labels = ["19.818", "29.157", "38.496", "47.835", "57.174", "66.513", "75.852", "85.191", "94.53"]
mvrv_ticks = [-25.34, -19.00, -12.67, -6.335, 0, 4.906, 9.811, 14.72]
mvrv_tick_labels = ["-25.34%", "-19.00%", "-12.67%", "-6.335%", "0%", "4.906%", "9.811%", "14.72%"]

# ---- frames -------------------------------------------------------------
daily = pd.DataFrame({"date": pd.date_range(start, periods=len(mvrv), freq="D"),
                      "mvrv": mvrv, "age": coin_age})
pdf = pd.DataFrame(price_pts, columns=["day", "price"])
pdf["date"] = start + pd.to_timedelta(pdf["day"], unit="D")
vdf = pd.DataFrame(vol_pts, columns=["day", "vol"])
vdf["date"] = start + pd.to_timedelta(vdf["day"], unit="D")

GREEN, BLUE, RED, DARK = "#26c953", "#5a5aff", "#ff5b5b", "#544c41"
TICK = "#a3aac2"

sns.set_style("white")
plt.rcParams["font.family"] = ["Open Sans", "DejaVu Sans"]

fig = plt.figure(figsize=(25.6, 8.67), dpi=100)
ax_f = fig.add_axes([0, 94 / 867, 2360 / 2560, 764 / 867])
ax_p = ax_f.twinx()
ax_m = ax_f.twinx()
ax_c = ax_f.twinx()
ax_v = ax_f.twinx()
for z, a in enumerate([ax_f, ax_p, ax_m, ax_c, ax_v]):
    a.set_zorder(z + 1)
    a.patch.set_visible(False)
    for s in a.spines.values():
        s.set_visible(False)

x0 = start + pd.Timedelta(days=0.109)
x1 = start + pd.Timedelta(days=183.45)
tick_dates = [start + pd.Timedelta(days=0.109 + 15.172 * j) for j in range(len(tick_labels))]

# fill under/over MVRV (bottom layer) + watermark
ax_f.fill_between(daily["date"], daily["mvrv"], 0, step="mid", color=RED, alpha=0.15, lw=0)
ax_f.set_ylim(-25.34, 14.72)
ax_f.set_yticks([])
ax_f.text(0.52, 0.458, "\u00b7santiment\u00b7", transform=ax_f.transAxes, ha="center", va="baseline",
          fontsize=104, color="#e4e8f2", family=["Lato", "DejaVu Sans"], fontweight="normal", zorder=0)

# price
sns.lineplot(data=pdf, x="date", y="price", ax=ax_p, color=GREEN, lw=1.3, estimator=None,
             sort=False, legend=False)
ax_p.set_ylim(221, 352)
ax_p.set_yticks(np.linspace(221, 352, 9))
ax_p.set_yticklabels(price_tick_labels)
ax_p.yaxis.set_ticks_position("right")
ax_p.grid(True, color="#e8ebf3", lw=1, linestyle=(0, (7, 6)))
ax_p.set_axisbelow(True)
ax_p.spines["right"].set_visible(True)
ax_p.spines["right"].set_color("#6dd68a")
ax_p.spines["right"].set_linewidth(1.6)
ax_p.spines["bottom"].set_visible(True)
ax_p.spines["bottom"].set_color("#dfe3ee")
ax_p.set_xticks(tick_dates)
ax_p.set_xticklabels(tick_labels)
ax_p.tick_params(axis="x", length=0, pad=7, labelsize=10, labelcolor=TICK)
ax_p.tick_params(axis="y", length=0, pad=6, labelsize=10, labelcolor=TICK)
ax_p.get_xticklabels()[0].set_ha("left")

# MVRV
ax_m.hlines(0, daily["date"].iloc[0], daily["date"].iloc[-1], color="#ff9d9d", lw=1)
sns.lineplot(data=daily, x="date", y="mvrv", ax=ax_m, color=RED, lw=1.5, drawstyle="steps-mid",
             estimator=None, legend=False)
ax_m.set_ylim(-25.34, 14.72)
ax_m.set_yticks(mvrv_ticks)
ax_m.set_yticklabels(mvrv_tick_labels)
ax_m.spines["right"].set_visible(True)
ax_m.spines["right"].set_position(("axes", 2493 / 2360))
ax_m.spines["right"].set_color(RED)
ax_m.tick_params(axis="y", length=0, pad=7, labelsize=10, labelcolor=TICK)

# mean coin age
sns.lineplot(data=daily, x="date", y="age", ax=ax_c, color=BLUE, lw=1.4, drawstyle="steps-mid",
             estimator=None, legend=False)
ax_c.set_ylim(19.818, 94.53)
ax_c.set_yticks(np.linspace(19.818, 94.53, 9))
ax_c.set_yticklabels(age_tick_labels)
ax_c.spines["right"].set_visible(True)
ax_c.spines["right"].set_position(("axes", 2427 / 2360))
ax_c.spines["right"].set_color(BLUE)
ax_c.tick_params(axis="y", length=0, pad=6, labelsize=10, labelcolor=TICK)

# volatility (no axis)
sns.lineplot(data=vdf, x="date", y="vol", ax=ax_v, color=DARK, lw=1.6, estimator=None,
             sort=False, legend=False)
ax_v.set_ylim(0, 8)
ax_v.set_yticks([])

for a in [ax_f, ax_p, ax_m, ax_c, ax_v]:
    a.set_xlim(x0, x1)
    a.set_xlabel("")
    a.set_ylabel("")
for a in [ax_f, ax_m, ax_c, ax_v]:
    a.tick_params(axis="x", bottom=False, labelbottom=False)

# last-value badges
def badge(ax, xfrac, y, text, color):
    tr = mtransforms.blended_transform_factory(ax.transAxes, ax.transData)
    ax.text(xfrac, y, text, transform=tr, ha="left", va="center", fontsize=10, color="white",
            bbox=dict(boxstyle="square,pad=0.22", fc=color, ec="none"), zorder=10, clip_on=False)

badge(ax_p, 2366 / 2360, price_pts[-1][1], f"{price_pts[-1][1]:.0f}", GREEN)
badge(ax_c, 2434 / 2360, coin_age[-1], f"{coin_age[-1]:.3f}", BLUE)
badge(ax_m, 2499 / 2360, mvrv[-1], f"{mvrv[-1]:.2f}%", RED)

handles = [Patch(facecolor=c, edgecolor="none") for c in [GREEN, BLUE, RED, "#5b5245"]]
labels = ["Price (BNB)", "Mean Coin Age (90d) (BNB)", "MVRV Ratio (180d) (BNB)", "Price Volatility 1w (BNB)"]
fig.legend(handles, labels, loc="center", bbox_to_anchor=(0.4996, 1 - 834 / 867), ncol=4, frameon=False,
           fontsize=13.3, handlelength=0.7, handleheight=0.7, handletextpad=0.45, columnspacing=1.55,
           labelcolor="#363b4b")

fig.savefig("out.png", dpi=100, facecolor="white")
